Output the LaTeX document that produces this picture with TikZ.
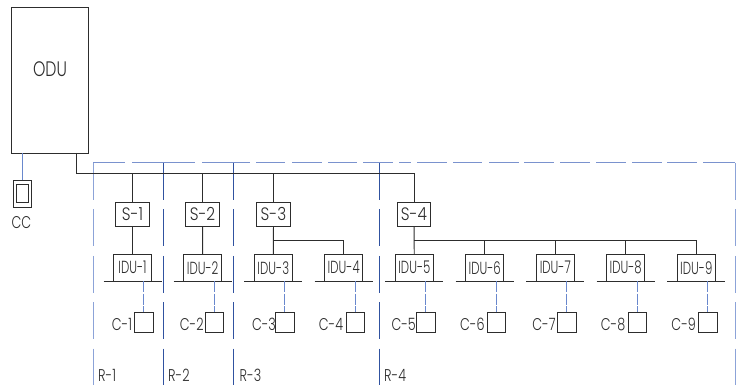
\documentclass[tikz,border=0pt]{standalone}
\usepackage{fontspec}
\setmainfont{Poppins Light}[FakeStretch=0.75]
\newfontfamily\idufont{Poppins Light}[FakeStretch=0.67]
\newfontfamily\sfont{Poppins Light}[FakeStretch=0.85]
\definecolor{zonel}{RGB}{140,163,216}
\definecolor{zoned}{RGB}{48,82,160}
\definecolor{zonet}{RGB}{122,146,206}
\definecolor{sigc}{RGB}{105,136,205}
\definecolor{ink}{RGB}{45,45,45}
\tikzset{
  box/.style={draw=ink,line width=.9pt,inner sep=0pt,fill=white},
  pipe/.style={draw=ink,line width=.9pt},
  sig/.style={draw=sigc,line width=.9pt},
  zone/.style={line width=.9pt,dash pattern=on 37pt off 9.4pt},
  lab/.style={inner sep=0pt,font=\fontsize{17}{18}\selectfont,text=ink},
  idulab/.style={lab,font=\idufont\fontsize{17.5}{18}\selectfont},
  slab/.style={lab,font=\sfont\fontsize{18}{19}\selectfont},
}
\begin{document}
\begin{tikzpicture}[x=1pt,y=-1pt]
\useasboundingbox (0,0) rectangle (739,385);
\node[box,minimum width=76.5pt,minimum height=145.5pt] (odu) at (49.75,80.25) {};
\node[lab,font=\fontsize{21}{22}\selectfont] (odut) at (50,69) {ODU};
\node[box,minimum width=18pt,minimum height=27pt] (cc) at (22.5,193.5) {};
\node[box,minimum width=11.5pt,minimum height=18pt] (cci) at (22.25,193) {};
\node[lab] (cct) at (21.5,223) {CC};
\draw[sig] (22.5,153) -- (cc.north);
% zones
\coordinate (zt) at (93,163);
\coordinate (zr) at (735,163);
\draw[draw=zonet,line width=1pt,dash pattern=on 32pt off 7pt on 63pt off 7pt on 48pt off 6pt on 29pt off 7pt on 30pt off 6pt on 29pt off 6pt on 30pt off 6pt on 12pt off 6pt on 30pt off 6pt on 29pt off 7pt on 30pt off 5pt on 30pt off 6pt on 30pt off 6pt on 30pt off 6pt on 30pt off 5pt on 30pt off 6pt on 32pt off 50pt] (zt) -- (zr);
\foreach \n/\x/\c in {a/93.5/zonel,b/163.5/zoned,c/233.5/zoned,d/379.5/zoned,e/735/zonel}{
  \coordinate (z\n t) at (\x,163);
  \coordinate (z\n b) at (\x,385);
  \draw[zone,draw=\c] (z\n t) -- (z\n b);
}
% refrigerant main
\coordinate (m1) at (76.5,153);
\coordinate (m2) at (76.5,173);
\coordinate (m3) at (414,173);
\draw[pipe] (m1) -- (m2) -- (m3);
% branch controllers
\foreach \n/\x in {1/132.5,2/202.5,3/273.5,4/414}{
  \node[box,slab,minimum width=33.5pt,minimum height=24.5pt] (s\n) at (\x,214.25) {S-\n};
  \coordinate (t\n) at (\x,173);
  \draw[pipe] (t\n) -- (s\n);
}
% indoor units
\foreach \n/\x/\y/\c in {1/132.5/143.7/122,2/202.7/214.3/191.7,3/273.3/284.7/264,4/343.7/355.3/331,5/414.3/425.7/403.7,6/484.7/496.3/472.3,7/555.3/566.7/544,8/625.7/637.3/613,9/696.3/707.7/683.7}{
  \node[box,idulab,minimum width=38pt,minimum height=26.5pt] (i\n) at (\x,267.75) {IDU-\n};
  \coordinate (bl\n) at (\x-29,281);
  \coordinate (br\n) at (\x+29,281);
  \draw[pipe] (bl\n) -- (br\n);
  \node[box,minimum width=18.7pt,minimum height=19.3pt] (c\n) at (\y,322.4) {};
  \coordinate (u\n) at (\y,281);
  \draw[sig,dash pattern=on 11pt off 1.5pt] (u\n) -- (c\n.north);
  \node[lab] (cl\n) at (\c,324) {C-\n};
}
\draw[pipe] (s1) -- (i1);
\draw[pipe] (s2) -- (i2);
\draw[pipe] (s3) -- (i3);
\draw[pipe] (s4) -- (i5);
\coordinate (j3) at (273.3,240);
\coordinate (j4) at (414.3,240);
\draw[pipe] (j3) -| (i4.north);
\draw[pipe] (j4) -| (i9.north);
\foreach \n in {6,7,8}{ \draw[pipe] (i\n.north |- j4) -- (i\n.north); }
\foreach \n/\x in {1/98,2/168,3/239.5,4/384}{
  \node[lab,anchor=base west] (r\n) at (\x,381.5) {R-\n};
}
\end{tikzpicture}
\end{document}
